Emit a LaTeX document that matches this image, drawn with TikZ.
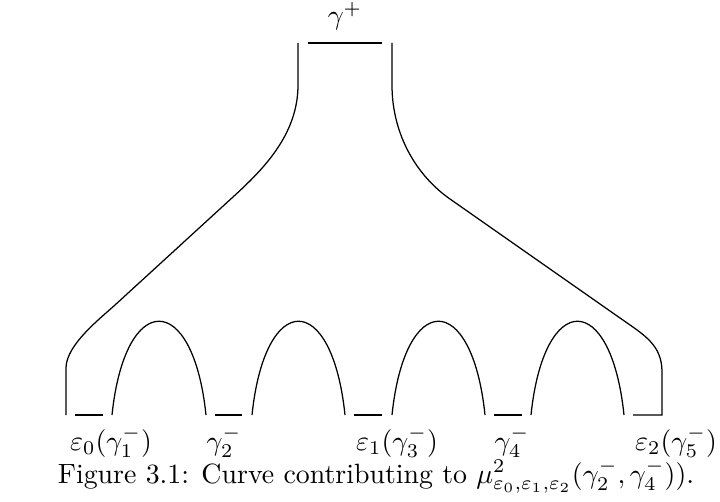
\documentclass[tikz,border=0pt]{standalone}
\begin{document}
\begin{tikzpicture}[x=0.359pt,y=-0.359pt,
  curve/.style={draw=black, line width=0.45pt},
  lab/.style={anchor=base, inner sep=0pt}]
\useasboundingbox (0,0) rectangle (720,502);
% top
\coordinate (tl) at (298,43);
\coordinate (tr) at (392,43);
\coordinate (ta) at (308,43);
\coordinate (tb) at (382,43);
\node[lab] (gplus) at (345,25) {$\gamma^+$};
\draw[curve] (ta) -- (tb);
% bottom corners
\coordinate (bl) at (66,415);
\coordinate (br) at (662,415);
% bottom segments
\coordinate (s1a) at (75,415);  \coordinate (s1b) at (103,415);
\coordinate (s2a) at (215,415); \coordinate (s2b) at (242,415);
\coordinate (s3a) at (354,415); \coordinate (s3b) at (382,415);
\coordinate (s4a) at (494,415); \coordinate (s4b) at (522,415);
\coordinate (s5a) at (633,415);
\draw[curve] (s1a) -- (s1b);
\draw[curve] (s2a) -- (s2b);
\draw[curve] (s3a) -- (s3b);
\draw[curve] (s4a) -- (s4b);
% arches
\coordinate (a1a) at (112,415); \coordinate (a1b) at (206,415);
\coordinate (a2a) at (252,415); \coordinate (a2b) at (345,415);
\coordinate (a3a) at (392,415); \coordinate (a3b) at (485,415);
\coordinate (a4a) at (531,415); \coordinate (a4b) at (624,415);
\foreach \a/\b in {a1a/a1b,a2a/a2b,a3a/a3b,a4a/a4b}
  \draw[curve] (\a) .. controls +(13,-125) and +(-13,-125) .. (\b);
% outer curves
\draw[curve] (tl) -- (298,85) .. controls (298,135) and (262.5,170) .. (233,197)
  -- (115,305) .. controls (100.2,318.5) and (66,345) .. (66,368) -- (bl);
\draw[curve] (tr) -- (392,85) .. controls (392,135) and (417,176) .. (450,199)
  -- (620,318) .. controls (644.6,335.2) and (662,345) .. (662,372) -- (br) -- (s5a);
% labels
\node[lab] (l1) at (111,450) {$\varepsilon_0(\gamma_1^-)$};
\node[lab] (l2) at (224,450) {$\gamma_2^-$};
\node[lab] (l3) at (397,450) {$\varepsilon_1(\gamma_3^-)$};
\node[lab] (l4) at (512,450) {$\gamma_4^-$};
\node[lab] (l5) at (676,450) {$\varepsilon_2(\gamma_5^-)$};
\node[lab] (cap) at (376,483) {Figure 3.1: Curve contributing to $\mu^2_{\varepsilon_0,\varepsilon_1,\varepsilon_2}(\gamma_2^-,\gamma_4^-))$.};
\end{tikzpicture}
\end{document}
